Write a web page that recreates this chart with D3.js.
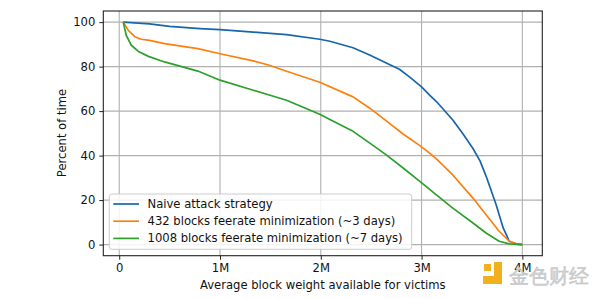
<!DOCTYPE html>
<html>
<head>
<meta charset="utf-8">
<script src="https://cdn.jsdelivr.net/npm/d3@7"></script>
<style>
  html, body { margin: 0; padding: 0; background: #fff; }
  svg { display: block; }
  text { font-family: "DejaVu Sans", sans-serif; }
</style>
</head>
<body>
<svg id="chart" width="600" height="299"></svg>
<script>
// Data (x in millions of weight units, y in percent of time)
const seriesNames = [
  "Naive attack strategy",
  "432 blocks feerate minimization (~3 days)",
  "1008 blocks feerate minimization (~7 days)"
];
const seriesColors = ["#1866aa", "#ff7f0e", "#2ca02c"];

const naiveX = [0.04, 0.30, 0.50, 0.80, 1.00, 1.33, 1.66, 1.99, 2.09, 2.32, 2.49, 2.65, 2.78, 2.88, 3.00, 3.08, 3.15, 3.31, 3.41, 3.51, 3.58, 3.64, 3.74, 3.81, 3.87, 3.94, 4.00];
const naiveY = [100, 99.2, 98.1, 97.1, 96.6, 95.5, 94.4, 92.3, 91.4, 88.5, 85.1, 81.6, 78.8, 75.4, 70.9, 67.2, 64.2, 56.0, 49.8, 43.2, 37.6, 30.8, 17.9, 7.5, 1.5, 0.3, 0];

const d432X = [0.04, 0.09, 0.16, 0.22, 0.30, 0.45, 0.78, 1.00, 1.33, 1.49, 1.66, 1.99, 2.32, 2.49, 2.65, 2.82, 2.98, 3.08, 3.15, 3.31, 3.51, 3.64, 3.77, 3.87, 3.94, 4.00];
const d432Y = [100, 96.3, 93.3, 92.3, 91.8, 90.3, 88.1, 85.8, 82.6, 80.6, 77.9, 73.0, 66.4, 61.2, 55.6, 49.6, 44.6, 41.1, 38.4, 31.3, 20.9, 13.4, 6.0, 1.5, 0.2, 0];

const d1008X = [0.04, 0.07, 0.12, 0.19, 0.29, 0.45, 0.78, 1.00, 1.33, 1.66, 1.99, 2.09, 2.32, 2.49, 2.65, 2.82, 2.98, 3.08, 3.15, 3.31, 3.51, 3.64, 3.77, 3.87, 4.00];
const d1008Y = [100, 94.0, 89.6, 86.8, 84.6, 82.1, 78.0, 73.9, 69.4, 64.9, 58.6, 56.2, 50.9, 45.5, 40.3, 34.3, 28.5, 24.8, 22.2, 16.4, 9.7, 5.2, 1.5, 0.3, 0];

const xTicks = [0, 1, 2, 3, 4];
const xTickLabels = ["0", "1M", "2M", "3M", "4M"];
const yTicks = [0, 20, 40, 60, 80, 100];

const xLabel = "Average block weight available for victims";
const yLabel = "Percent of time";

const allSeries = [
  { name: seriesNames[0], color: seriesColors[0], xs: naiveX, ys: naiveY },
  { name: seriesNames[1], color: seriesColors[1], xs: d432X, ys: d432Y },
  { name: seriesNames[2], color: seriesColors[2], xs: d1008X, ys: d1008Y }
];

const svg = d3.select("#chart");
const L = 103.3, R = 542.3, T = 11, B = 255.7;
const FS = 11.6;

const x = d3.scaleLinear().domain([0.04 - 0.05 * 3.96, 4.0 + 0.05 * 3.96]).range([L, R]);
const y = d3.scaleLinear().domain([-5, 105]).range([B, T]);

// grid
const grid = svg.append("g");
xTicks.forEach(t => grid.append("line")
  .attr("x1", x(t)).attr("x2", x(t)).attr("y1", T).attr("y2", B)
  .attr("stroke", "#b0b0b0").attr("stroke-width", 1.1));
yTicks.forEach(t => grid.append("line")
  .attr("x1", L).attr("x2", R).attr("y1", y(t)).attr("y2", y(t))
  .attr("stroke", "#b0b0b0").attr("stroke-width", 1.1));

// axes
const xAxis = d3.axisBottom(x).tickValues(xTicks).tickFormat((d, i) => xTickLabels[i])
  .tickSize(4).tickPadding(4);
const yAxis = d3.axisLeft(y).tickValues(yTicks).tickSize(4).tickPadding(4);

const gx = svg.append("g").attr("transform", `translate(0,${B})`).call(xAxis);
const gy = svg.append("g").attr("transform", `translate(${L},0)`).call(yAxis);
[gx, gy].forEach(g => {
  g.select(".domain").remove();
  g.selectAll(".tick line").attr("stroke", "#222").attr("stroke-width", 1);
  g.selectAll(".tick text").attr("font-size", FS).attr("fill", "#111")
    .attr("font-family", "DejaVu Sans, sans-serif");
});

// lines
svg.append("clipPath").attr("id", "clip").append("rect")
  .attr("x", L).attr("y", T).attr("width", R - L).attr("height", B - T);
const line = d3.line().x(d => x(d[0])).y(d => y(d[1]));
allSeries.forEach(s => {
  const pts = s.xs.map((v, i) => [v, s.ys[i]]);
  svg.append("path").datum(pts)
    .attr("d", line)
    .attr("fill", "none")
    .attr("stroke", s.color)
    .attr("stroke-width", 1.7)
    .attr("stroke-linejoin", "round")
    .attr("clip-path", "url(#clip)");
});

// frame
svg.append("rect").attr("x", L).attr("y", T).attr("width", R - L).attr("height", B - T)
  .attr("fill", "none").attr("stroke", "#222").attr("stroke-width", 1.1);

// legend
const lg = svg.append("g");
lg.append("rect").attr("x", 109.3).attr("y", 194).attr("width", 302.4).attr("height", 55.3)
  .attr("rx", 2.5).attr("fill", "#fff").attr("fill-opacity", 0.85)
  .attr("stroke", "#cccccc").attr("stroke-width", 1);
const rowY = [204, 221.2, 238.4];
allSeries.forEach((s, i) => {
  lg.append("line").attr("x1", 113.3).attr("x2", 139).attr("y1", rowY[i]).attr("y2", rowY[i])
    .attr("stroke", s.color).attr("stroke-width", 1.7);
  lg.append("text").attr("x", 147.5).attr("y", rowY[i]).attr("dy", "0.35em")
    .attr("font-size", FS).attr("fill", "#111").text(s.name);
});

// axis labels
svg.append("text").attr("x", (L + R) / 2).attr("y", 285).attr("dy", "0.35em")
  .attr("text-anchor", "middle").attr("font-size", FS).attr("fill", "#111").text(xLabel);
svg.append("text").attr("transform", "translate(62,133) rotate(-90)")
  .attr("dy", "0.35em").attr("text-anchor", "middle")
  .attr("font-size", FS).attr("fill", "#111").text(yLabel);

// watermark
const wm = svg.append("g");
wm.append("rect").attr("x", 484).attr("y", 264).attr("width", 7).attr("height", 7).attr("fill", "#f2b01e");
wm.append("path").attr("d", "M494,262 h8 v22 h-19 v-8 h11 z").attr("fill", "#f2b01e");
wm.append("text").attr("x", 509).attr("y", 276).attr("dy", "0.35em")
  .attr("font-family", "Noto Sans CJK SC, sans-serif").attr("font-size", 20)
  .attr("fill", "#d6d6d6").attr("stroke", "#bdbdbd").attr("stroke-width", 0.5)
  .text("金色财经");
</script>
</body>
</html>
